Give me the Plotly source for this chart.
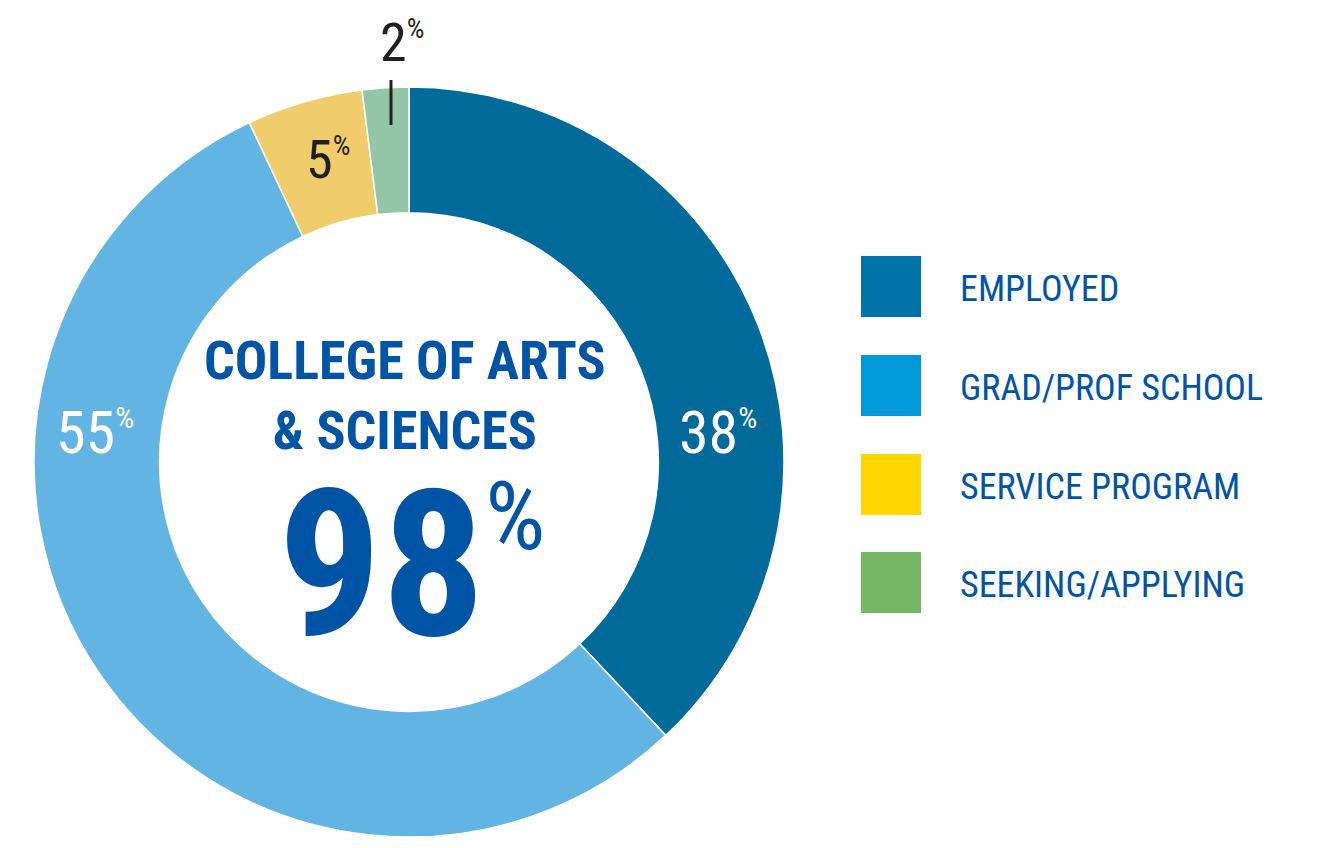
import plotly.graph_objects as go

categories = ["EMPLOYED", "GRAD/PROF SCHOOL", "SERVICE PROGRAM", "SEEKING/APPLYING"]
values = [38, 55, 5, 2]
slice_colors = ["#006B9A", "#62B5E3", "#F0CD6A", "#93C6A6"]
legend_colors = ["#0073A8", "#0099DA", "#FFD600", "#74B866"]
center_title = "COLLEGE OF ARTS<br>& SCIENCES"
center_value = "98"

W, H = 1326, 848
OFF = 8  # default page body margin
def px(x): return (x - OFF) / W
def py(y): return 1 - (y - OFF) / H

FONT = "Roboto Condensed, Liberation Sans Narrow, Roboto, sans-serif"
BLUE = "#0054A6"

fig = go.Figure(go.Pie(
    labels=categories, values=values, hole=0.665, sort=False,
    direction="clockwise", rotation=0,
    marker=dict(colors=slice_colors, line=dict(color="white", width=1.5)),
    textinfo="none", hoverinfo="label+value", showlegend=False,
    domain=dict(x=[px(34), px(784)], y=[py(837), py(87)]),
))

ann = []
def lab(x, y, t, size, color, anchor="center"):
    ann.append(dict(x=px(x), y=py(y), xref="paper", yref="paper", text=t, showarrow=False,
                    xanchor=anchor, yanchor="middle",
                    font=dict(family=FONT, size=size, color=color)))

pct = lambda v, s: f"{v}<sup><span style='font-size:{s}px'>%</span></sup>"
lab(95, 432, pct(values[1], 30), 60, "white")
lab(718, 432, pct(values[0], 30), 60, "white")
lab(328, 160, pct(values[2], 28), 54, "#231F20")
lab(402, 42, pct(values[3], 28), 54, "#231F20")
lab(405, 395, f"<b>{center_title}</b>", 54, BLUE)
lab(412, 565, f"<b>{center_value}</b><sup><span style='font-size:95px'>%</span></sup>", 205, BLUE)

shapes = [dict(type="line", xref="paper", yref="paper", x0=px(391), x1=px(391), y0=py(80), y1=py(125),
               line=dict(color="#231F20", width=3))]
tops = [256, 355, 454, 552]
for c, col, t in zip(categories, legend_colors, tops):
    shapes.append(dict(type="rect", xref="paper", yref="paper", x0=px(861), x1=px(921),
                       y0=py(t + 61), y1=py(t), fillcolor=col, line=dict(width=0)))
    lab(958, t + 33, c, 36, BLUE, anchor="left")

fig.update_layout(width=W, height=H, margin=dict(l=0, r=0, t=0, b=0),
                  paper_bgcolor="white", plot_bgcolor="white",
                  annotations=ann, shapes=shapes)
fig.write_html("out.html")
